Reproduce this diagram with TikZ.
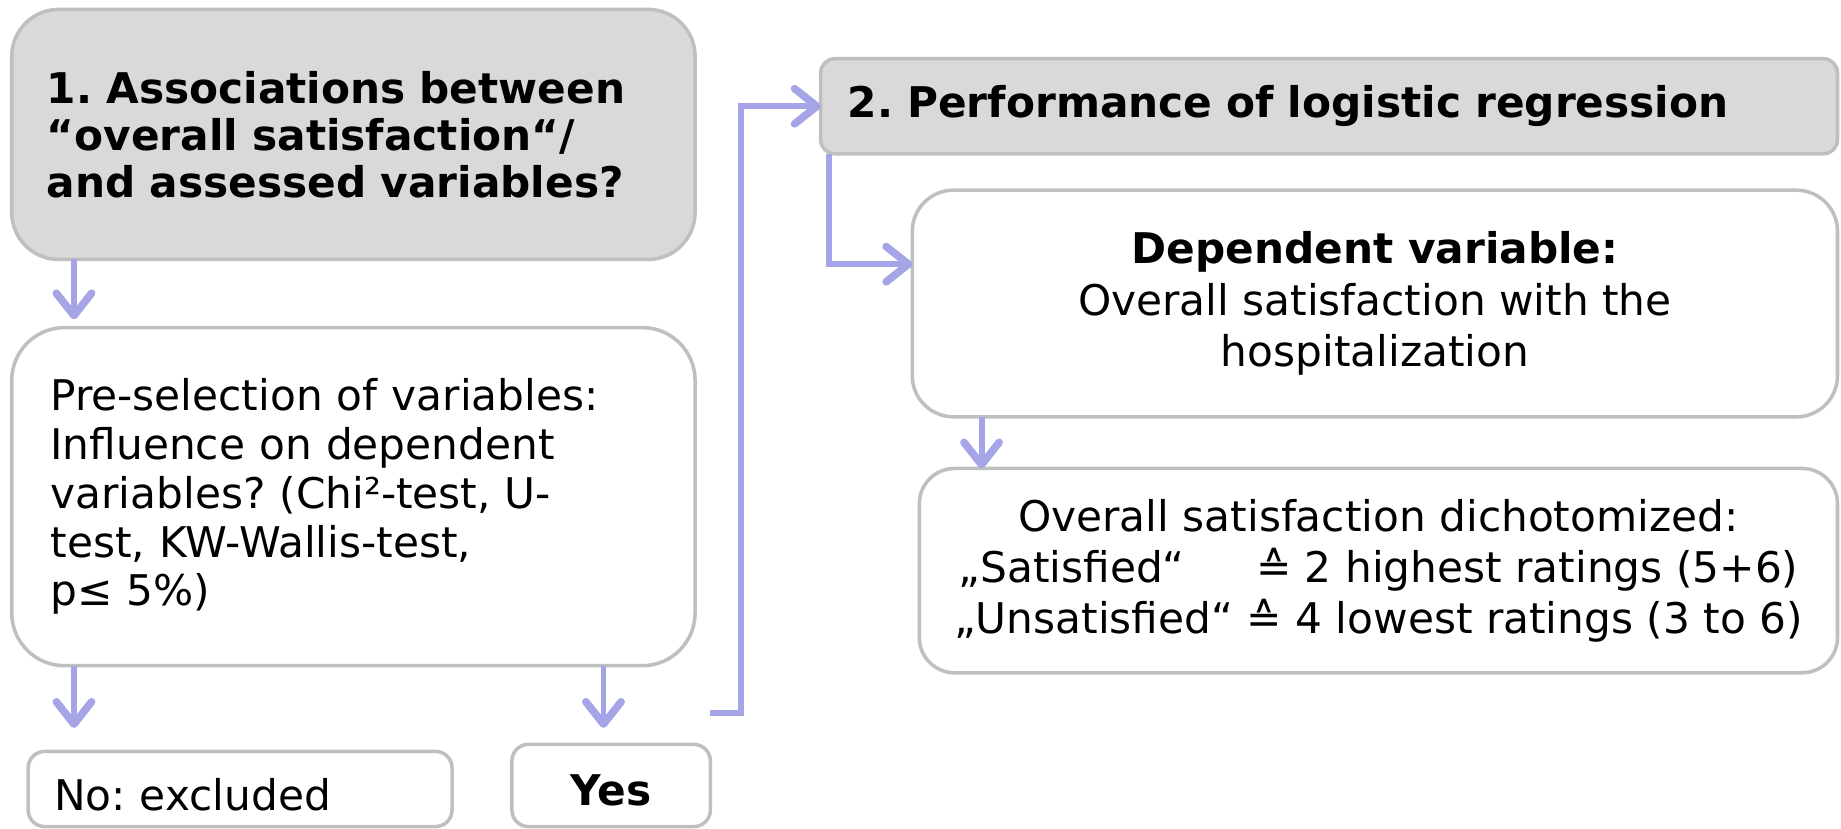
\documentclass[tikz,border=0pt]{standalone}
\usepackage{fontspec}
\setmainfont{DejaVu Sans}
\usetikzlibrary{arrows.meta,calc}
\definecolor{boxgray}{RGB}{217,217,217}
\definecolor{bordergray}{RGB}{191,191,191}
\definecolor{arrowblue}{RGB}{164,164,230}
\frenchspacing
\begin{document}
\frenchspacing
\begin{tikzpicture}[x=1pt,y=-1pt,
  box/.style={draw=bordergray, line width=3pt, fill=white, inner sep=0pt, outer sep=0pt,
              font=\fontsize{36}{41}\selectfont\frenchspacing, anchor=north west},
  graybox/.style={box, fill=boxgray, font=\fontsize{36}{40}\selectfont\bfseries\frenchspacing},
  arr/.style={draw=arrowblue, line width=5pt,
              -{Straight Barb[round, length=19pt, width=30pt, line width=6.5pt]}}
]
\useasboundingbox (0,0) rectangle (1568,706);

\node[graybox, rounded corners=40pt, minimum width=582pt, minimum height=213pt,
      text width=522pt, align=left] (q1) at (10,8)
  {1. Associations between\\“overall satisfaction“/\\and assessed variables?};

\node[box, rounded corners=45pt, minimum width=582pt, minimum height=288pt,
      text width=516pt, align=left, font=\fontsize{36}{41.5}\selectfont\frenchspacing] (pre) at (10,279)
  {Pre-selection of variables:\\Influence on dependent\\variables? (Chi²-test, U-\\test, KW-Wallis-test,\\p≤ 5\%)};

\node[box, rounded corners=14pt, minimum width=361pt, minimum height=64pt,
      text width=317pt, text height=36pt, text depth=0pt] (no) at (24,640) {No: excluded};

\node[box, rounded corners=14pt, minimum width=169pt, minimum height=70pt,
      text height=34pt, text depth=0pt,
      font=\fontsize{36}{41}\selectfont\bfseries] (yes) at (436,634) {Yes};

\node[graybox, rounded corners=12pt, minimum width=866pt, minimum height=81pt,
      text width=820pt, align=left] (q2) at (699,50) {2. Performance of logistic regression};

\node[box, rounded corners=35pt, minimum width=788pt, minimum height=193pt,
      align=center, font=\fontsize{36}{44}\selectfont\frenchspacing] (dep) at (777,162)
  {\textbf{Dependent variable:}\\Overall satisfaction with the\\hospitalization};

\node[box, rounded corners=30pt, minimum width=782pt, minimum height=174pt,
      align=center, font=\fontsize{36}{43.5}\selectfont\frenchspacing] (dich) at (783,399)
  {Overall satisfaction dichotomized:\\„Satisfied“\hspace{1.37em} ≙ 2 highest ratings (5+6)\\„Unsatisfied“ ≙ 4 lowest ratings (3 to 6)};

\draw[arr] ([xshift=53pt]q1.south west) -- ([xshift=53pt,yshift=7pt]pre.north west);
\draw[arr] ([xshift=53pt]pre.south west) -- ([xshift=39pt,yshift=20pt]no.north west);
\draw[arr] ([xshift=504pt]pre.south west) -- ([xshift=78pt,yshift=14pt]yes.north west);
\coordinate (yesout) at ([yshift=27pt]yes.north east);
\draw[arr] (yesout) -| ([xshift=-68pt]q2.west) |- (q2.west);
\draw[arr] ([xshift=7pt]q2.south west) |- ([yshift=-63pt]dep.north west);
\draw[arr] ([xshift=59pt]dep.south west) -- ([xshift=53pt]dich.north west);
\end{tikzpicture}
\end{document}
